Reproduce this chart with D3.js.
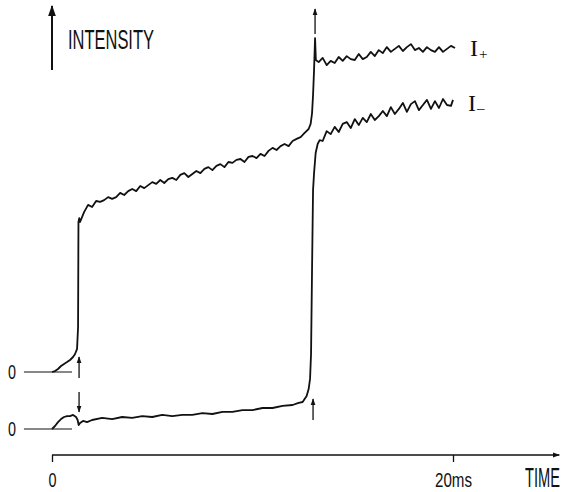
<!DOCTYPE html>
<head>
  <meta charset="utf-8">
  <script src="https://d3js.org/d3.v7.min.js"></script>
  <style>
    body { margin:0; background:#fff; }
    text { fill:#111; }
  </style>
</head>
<body>
<script>

// time in ms, intensity in arbitrary units (same unit for both traces)
// I+ trace (upper, own zero line)
var tPlus = [0, 0.15, 0.3, 0.45, 0.6, 0.75, 0.9, 1.05, 1.15, 1.25, 1.30, 1.32, 1.36,
  1.4, 1.6, 1.8, 2.0, 2.2, 2.4, 2.6, 2.8, 3.0, 3.2, 3.4, 3.6, 3.8, 4.0, 4.2, 4.4, 4.6, 4.8,
  5.0, 5.2, 5.4, 5.6, 5.8, 6.0, 6.2, 6.4, 6.6, 6.8, 7.0, 7.2, 7.4, 7.6, 7.8, 8.0, 8.2, 8.4,
  8.6, 8.8, 9.0, 9.2, 9.4, 9.6, 9.8, 10.0, 10.2, 10.4, 10.6, 10.8, 11.0, 11.2, 11.4, 11.6,
  11.8, 12.0, 12.2, 12.4, 12.6, 12.8,
  12.9, 12.97, 13.02, 13.07, 13.12, 13.16,
  13.3, 13.5, 13.7, 13.9, 14.1, 14.3, 14.5, 14.7, 14.9, 15.1, 15.3, 15.5, 15.7, 15.9, 16.1,
  16.3, 16.5, 16.7, 16.9, 17.1, 17.3, 17.5, 17.7, 17.9, 18.1, 18.3, 18.5, 18.7, 18.9, 19.1,
  19.3, 19.5, 19.7, 19.9, 20.1];
var iPlus = [0, 0.3, 1.0, 2.0, 2.7, 3.3, 4.0, 5.0, 6.0, 7.7, 15.0, 50.0, 51.3,
  50.0, 53.3, 55.7, 55.0, 57.0, 56.7, 57.3, 58.3, 57.7, 58.3, 59.7, 59.0, 60.3, 61.0, 60.3, 62.0, 61.3, 62.3,
  63.3, 62.7, 64.0, 63.0, 64.3, 64.7, 64.0, 65.7, 66.3, 65.0, 66.0, 67.0, 66.3, 67.7, 68.3, 67.3, 68.7, 69.3,
  68.3, 70.0, 69.7, 70.7, 71.0, 70.0, 71.7, 72.0, 71.3, 72.7, 72.0, 73.7, 74.7, 74.0, 75.3, 76.0,
  75.3, 77.0, 77.7, 78.3, 79.7, 81.0,
  82.7, 86.3, 92.3, 100.7, 111.3, 104.0,
  103.3, 104.7, 102.3, 103.7, 103.0, 105.0, 103.7, 105.3, 104.3, 104.0, 106.0, 104.3, 105.0, 106.7, 105.3,
  107.3, 106.3, 108.3, 106.7, 107.7, 108.7, 107.0, 108.3, 109.3, 107.3, 108.0, 106.7, 108.3, 107.3, 106.7,
  108.3, 106.7, 107.7, 108.7, 108.0];

// I- trace (lower, own zero line)
var tMinus = [0, 0.15, 0.3, 0.45, 0.6, 0.75, 0.9, 1.05, 1.2, 1.28, 1.33, 1.4, 1.55, 1.75,
  2.0, 2.5, 3.0, 3.5, 4.0, 4.5, 5.0, 5.5, 6.0, 6.5, 7.0, 7.5, 8.0, 8.5, 9.0, 9.5, 10.0, 10.5,
  11.0, 11.5, 12.0, 12.3, 12.5, 12.6, 12.7, 12.8, 12.87, 12.92, 12.97, 13.02, 13.07, 13.15, 13.25, 13.35,
  13.5, 13.7, 13.9, 14.1, 14.3, 14.5, 14.7, 14.9, 15.1, 15.3, 15.5, 15.7, 15.9, 16.1, 16.3, 16.5,
  16.7, 16.9, 17.1, 17.3, 17.5, 17.7, 17.9, 18.1, 18.3, 18.5, 18.7, 18.9, 19.1, 19.3, 19.5, 19.7,
  19.9, 20.0];
var iMinus = [0, 1.0, 2.3, 3.3, 4.0, 4.3, 4.3, 4.7, 4.0, 3.0, 1.3, 2.0, 2.7, 2.3,
  3.0, 3.7, 3.3, 4.0, 3.7, 4.3, 4.0, 4.7, 4.3, 4.7, 4.7, 5.3, 5.0, 5.7, 5.7, 6.3, 6.3, 7.0,
  7.0, 7.7, 8.0, 8.7, 9.0, 10.0, 11.0, 13.3, 16.7, 25.0, 53.3, 79.7, 85.3, 92.0, 95.0, 96.3,
  96.0, 99.3, 98.3, 100.7, 99.0, 101.7, 102.3, 100.3, 103.3, 101.3, 103.7, 102.3, 105.0, 103.0, 104.3, 106.0,
  104.3, 107.3, 105.0, 106.7, 108.7, 105.7, 108.3, 109.3, 106.3, 108.0, 109.7, 106.7, 109.3, 107.0, 110.0, 108.0,
  107.7, 109.7];

var timeTicks = [0, 20];
var timeTickLabels = ["0", "20ms"];

// marker arrows: [time, from, to] in intensity units of the given trace
var arrowsPlus = [[1.35, -2, 5], [13.12, 112.7, 121]];
var arrowsMinus = [[1.35, 12.3, 5.7], [13.02, 3, 10]];

var width = 566, height = 492;
var sans = "'Liberation Sans Narrow', 'Liberation Sans', sans-serif";

var svg = d3.select("body").append("svg")
    .attr("width", width)
    .attr("height", height);

var defs = svg.append("defs");
function marker(id, size){
  defs.append("marker")
    .attr("id", id)
    .attr("viewBox", "0 0 10 10")
    .attr("refX", 9).attr("refY", 5)
    .attr("markerWidth", size).attr("markerHeight", size)
    .attr("markerUnits", "userSpaceOnUse")
    .attr("orient", "auto")
  .append("path")
    .attr("d", "M0,1.5L10,5L0,8.5Z")
    .attr("fill", "#111");
}
marker("head", 7);
marker("bighead", 11);

// squeezed lettering: scale text horizontally to a given width
function narrowText(px, py, size, w, str){
  var t = svg.append("text")
    .style("font-family", sans)
    .attr("font-size", size)
    .text(str);
  var len = t.node().getComputedTextLength();
  t.attr("transform", "translate(" + px + "," + py + ") scale(" + (w / len) + ",1)");
  return t;
}

var x = d3.scaleLinear().domain([0, 20]).range([52, 453]);
var yUp = d3.scaleLinear().domain([0, 100]).range([372, 72]);
var yLo = d3.scaleLinear().domain([0, 100]).range([429, 129]);

// zero lines
[yUp, yLo].forEach(function(y){
  svg.append("line")
    .attr("x1", x(-1.4)).attr("x2", x(1.0))
    .attr("y1", y(0)).attr("y2", y(0))
    .attr("stroke", "#111").attr("stroke-width", 1.2);
  narrowText(8, y(0) + 7, 20, 8, "0");
});

// traces
function drawTrace(ts, vs, y){
  var pts = ts.map(function(t, i){ return [t, vs[i]]; });
  var line = d3.line()
    .x(function(d){ return x(d[0]); })
    .y(function(d){ return y(d[1]); });
  svg.append("path")
    .datum(pts)
    .attr("fill", "none")
    .attr("stroke", "#111")
    .attr("stroke-width", 1.8)
    .attr("stroke-linejoin", "round")
    .attr("d", line);
}
drawTrace(tPlus, iPlus, yUp);
drawTrace(tMinus, iMinus, yLo);

// small marker arrows
function drawArrows(list, y){
  list.forEach(function(a){
    svg.append("line")
      .attr("x1", x(a[0])).attr("x2", x(a[0]))
      .attr("y1", y(a[1])).attr("y2", y(a[2]))
      .attr("stroke", "#111").attr("stroke-width", 1.3)
      .attr("marker-end", "url(#head)");
  });
}
drawArrows(arrowsPlus, yUp);
drawArrows(arrowsMinus, yLo);

// time axis
var axisY = 455;
var xAxis = svg.append("g")
    .attr("transform", "translate(0," + axisY + ")")
    .call(d3.axisBottom(x).tickValues(timeTicks).tickSize(7).tickSizeOuter(0)
      .tickFormat(function(d, i){ return timeTickLabels[i]; }));
xAxis.select(".domain").remove();
xAxis.selectAll("line").attr("stroke", "#111").attr("stroke-width", 1.3);
xAxis.selectAll("text")
    .attr("font-family", null)
    .style("font-family", sans)
    .attr("font-size", 20)
    .attr("dy", null)
    .attr("y", 32)
    .attr("fill", "#111")
    .attr("textLength", function(d, i){ return i === 0 ? 8 : 37; })
    .attr("lengthAdjust", "spacingAndGlyphs");

svg.append("line")
    .attr("x1", x(0)).attr("x2", x(25.3))
    .attr("y1", axisY).attr("y2", axisY)
    .attr("stroke", "#111").attr("stroke-width", 1.5)
    .attr("marker-end", "url(#head)");
narrowText(525, 487, 27, 35, "TIME");

// intensity arrow
svg.append("line")
    .attr("x1", x(0)).attr("x2", x(0))
    .attr("y1", 70).attr("y2", 6)
    .attr("stroke", "#111").attr("stroke-width", 2)
    .attr("marker-end", "url(#bighead)");
narrowText(68, 49, 27, 86, "INTENSITY");

// trace labels
function traceLabel(t, v, y, sub, subDy){
  var tx = svg.append("text")
    .attr("x", x(t) + 15).attr("y", y(v) + 9)
    .style("font-family", "'Liberation Serif', 'DejaVu Serif', serif")
    .attr("font-size", 24);
  tx.append("tspan").text("I");
  tx.append("tspan").attr("font-size", 15).attr("dy", subDy).attr("dx", 1).text(sub);
}
traceLabel(20.1, 108.3, yUp, "+", 3);
traceLabel(20.0, 109.0, yLo, "\u2013", 2);

</script>
</body>
